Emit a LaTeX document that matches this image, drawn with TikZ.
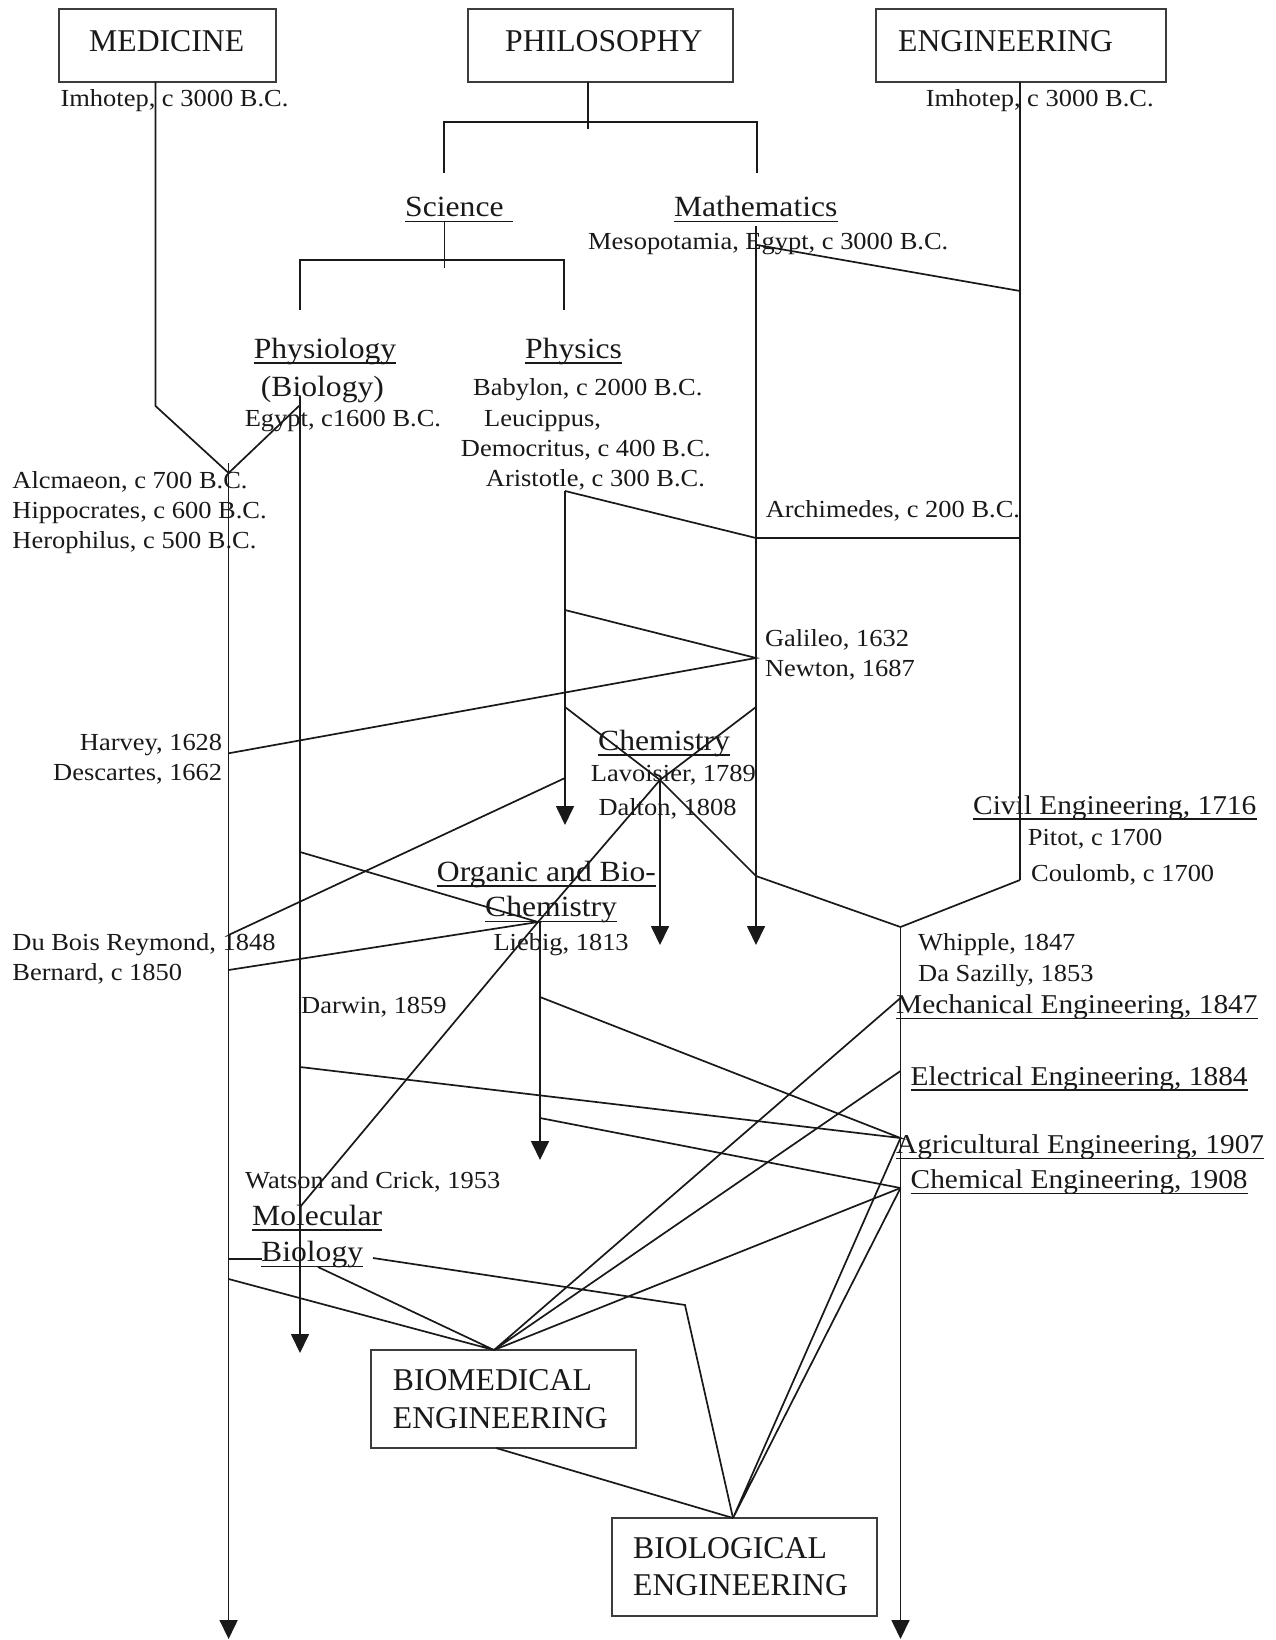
\documentclass[tikz,border=0pt]{standalone}
\usepackage{fontspec}
\setmainfont{Liberation Serif}
\newfontfamily\wideserif[FakeStretch=1.08]{Liberation Serif}
\newcommand\fontSm{\wideserif\fontsize{24.5}{28}\selectfont}
\newcommand\fontHd{\wideserif\fontsize{29.3}{34}\selectfont}
\newcommand\fontEn{\wideserif\fontsize{27.2}{32}\selectfont}
\newcommand\fontBx{\fontsize{31.7}{37}\selectfont}
\usetikzlibrary{arrows.meta}
\definecolor{ink}{gray}{0.1}
\begin{document}
\begin{tikzpicture}[x=1pt,y=-1pt,
  ln/.style={draw=ink,line width=1.7pt},
  arr/.style={ln,-{Triangle[length=19pt,width=18pt]}},
  boxn/.style={draw=ink!85,line width=1.8pt,inner sep=0pt},
  tx/.style={anchor=base west,inner sep=0pt,text=ink,font=\fontSm},
  hd/.style={tx,font=\fontHd},
  en/.style={tx,font=\fontEn},
  bx/.style={tx,font=\fontBx},
  ul/.style={draw=ink,line width=1.3pt}]
\fill[white] (0,0) rectangle (1275,1640);
\useasboundingbox (0,0) rectangle (1275,1640);

% ---- boxes
\node[boxn,minimum width=217pt,minimum height=73pt] (med) at (167.5,45.5) {};
\node[boxn,minimum width=265pt,minimum height=73pt] (phil) at (600.5,45.5) {};
\node[boxn,minimum width=290pt,minimum height=73pt] (eng) at (1021,45.5) {};
\node[boxn,minimum width=265pt,minimum height=98pt] (bme) at (503.5,1399) {};
\node[boxn,minimum width=265pt,minimum height=98pt] (bioe) at (744.5,1567) {};

\node[bx] (medT) at (89,51.7) {MEDICINE};
\node[bx] (philT) at (505,51.7) {PHILOSOPHY};
\node[bx] (engT) at (898,51.7) {ENGINEERING};
\node[bx] (bmeT1) at (392.7,1390.7) {BIOMEDICAL};
\node[bx] (bmeT2) at (392.7,1428.3) {ENGINEERING};
\node[bx] (bioT1) at (633,1558.3) {BIOLOGICAL};
\node[bx] (bioT2) at (633,1595) {ENGINEERING};

% ---- headings
\node[hd] (sci) at (405,216.7) {Science\kern9pt};
\node[hd] (math) at (673.8,216.7) {Mathematics};
\node[hd] (physio) at (253.6,358) {Physiology};
\node[hd] (biolp) at (260.7,396.7) {(Biology)};
\node[hd] (phys) at (525,358) {Physics};
\node[hd] (chem) at (598,750) {Chemistry};
\node[hd] (org1) at (436.7,881) {Organic and Bio-};
\node[hd] (org2) at (485,916.7) {Chemistry};
\node[hd] (molec) at (252,1225) {Molecular};
\node[hd] (biolm) at (261,1261.7) {Biology};

% ---- engineering labels
\node[en] (civil) at (973,814) {Civil Engineering, 1716};
\node[en] (mech) at (896,1013.3) {Mechanical Engineering, 1847};
\node[en] (elec) at (910.5,1085) {Electrical Engineering, 1884};
\node[en] (agri) at (896,1153.3) {Agricultural Engineering, 1907};
\node[en] (chemeng) at (910.5,1188.3) {Chemical Engineering, 1908};

% ---- small texts
\node[tx] (imh1) at (60.4,107) {Imhotep, c 3000 B.C.};
\node[tx] (imh2) at (925.6,107) {Imhotep, c 3000 B.C.};
\node[tx] (meso) at (588,249) {Mesopotamia, Egypt, c 3000 B.C.};
\node[tx] (egypt) at (244.6,426.7) {Egypt, c1600 B.C.};
\node[tx] (baby) at (473,395) {Babylon, c 2000 B.C.};
\node[tx] (leuc) at (484,426.7) {Leucippus,};
\node[tx] (democ) at (460.7,456.7) {Democritus, c 400 B.C.};
\node[tx] (arist) at (485.7,486.7) {Aristotle, c 300 B.C.};
\node[tx] (alcm) at (12.2,488) {Alcmaeon, c 700 B.C.};
\node[tx] (hipp) at (12.2,518) {Hippocrates, c 600 B.C.};
\node[tx] (heroph) at (12.2,548) {Herophilus, c 500 B.C.};
\node[tx] (archim) at (765.6,517.7) {Archimedes, c 200 B.C.};
\node[tx] (gali) at (764.8,646.7) {Galileo, 1632};
\node[tx] (newt) at (764.8,676.7) {Newton, 1687};
\node[tx,anchor=base east] (harv) at (222.4,750) {Harvey, 1628};
\node[tx,anchor=base east] (desc) at (222.4,780) {Descartes, 1662};
\node[tx] (lavo) at (590.7,781.7) {Lavoisier, 1789};
\node[tx] (dalt) at (598.3,815) {Dalton, 1808};
\node[tx] (pitot) at (1027.7,845) {Pitot, c 1700};
\node[tx] (coul) at (1031,881.7) {Coulomb, c 1700};
\node[tx] (lieb) at (493.3,950) {Liebig, 1813};
\node[tx] (dubois) at (12.2,950) {Du Bois Reymond, 1848};
\node[tx] (bern) at (12.2,980) {Bernard, c 1850};
\node[tx] (whip) at (918,950) {Whipple, 1847};
\node[tx] (dasaz) at (918,981.7) {Da Sazilly, 1853};
\node[tx] (darw) at (301,1013.3) {Darwin, 1859};
\node[tx] (wats) at (245,1188.3) {Watson and Crick, 1953};

% ---- underlines
\foreach \n in {sci,math,physio,phys,chem,org1,org2,molec,biolm,civil,mech,elec,agri,chemeng}
  \draw[ul] ([yshift=-5pt]\n.base west) -- ([yshift=-5pt]\n.base east);

% ---- junction coordinates
\coordinate (mTop) at (155.5,82);
\coordinate (mBend) at (155.5,406);
\coordinate (mV) at (228.6,473);
\coordinate (mS) at (228.6,463);
\coordinate (mEnd) at (228.6,1639);
\coordinate (mHarv) at (228.6,753.3);
\coordinate (mDub) at (228.6,935);
\coordinate (mBern) at (228.6,970);
\coordinate (mMol) at (228.6,1259);
\coordinate (mBme) at (228.6,1279);

\coordinate (pgS) at (300,396);
\coordinate (pgV) at (300,405);
\coordinate (pg1) at (300,852);
\coordinate (pgDar) at (300,1067);
\coordinate (pgMol) at (300,1207);
\coordinate (pgEnd) at (300,1353);

\coordinate (phA) at (588,82);
\coordinate (phB) at (588,129);
\coordinate (phL) at (444,122);
\coordinate (phR) at (757,122);
\coordinate (phLd) at (444,173);
\coordinate (phRd) at (757,173);
\coordinate (scA) at (444.6,222);
\coordinate (scB) at (444.6,268);
\coordinate (scL) at (300,260);
\coordinate (scR) at (564,260);
\coordinate (scLd) at (300,310);
\coordinate (scRd) at (564,310);

\coordinate (maS) at (756,226);
\coordinate (maMeso) at (757,245);
\coordinate (maArch) at (756,538);
\coordinate (maGal) at (756,658);
\coordinate (maChem) at (756,707);
\coordinate (maLow) at (756,876);
\coordinate (maEnd) at (756,945);

\coordinate (enS) at (1020,82);
\coordinate (enMeso) at (1020,291);
\coordinate (enArch) at (1020,538);
\coordinate (enEnd) at (1020,880);

\coordinate (phyS) at (565,491);
\coordinate (phyGal) at (565,610);
\coordinate (phyChem) at (565,707);
\coordinate (phyDub) at (565,778);
\coordinate (phyEnd) at (565,825);

\coordinate (cj) at (660,780);
\coordinate (chEnd) at (660,945);

\coordinate (lj) at (538,922);
\coordinate (ogS) at (540,922);
\coordinate (og1) at (540,997);
\coordinate (og2) at (540,1118);
\coordinate (ogEnd) at (540,1160);

\coordinate (ej0) at (900.5,927);
\coordinate (mj) at (900.5,998);
\coordinate (elj) at (900.5,1071);
\coordinate (aj) at (900.5,1138);
\coordinate (chj) at (900.5,1188);
\coordinate (leEnd) at (900.5,1639);

\coordinate (bt) at (494,1350);
\coordinate (bb) at (496,1448);
\coordinate (gt) at (733,1518);
\coordinate (molL) at (262,1259);
\coordinate (molR) at (373,1258);
\coordinate (molT) at (318,1267);
\coordinate (kink) at (685,1305);

% ---- connectors
\draw[ln] (mTop) -- (mBend) -- (mV) -- (pgV);
\draw[arr] (mS) -- (mEnd);
\draw[arr] (pgS) -- (pgEnd);
\draw[ln] (phA) -- (phB);
\draw[ln] (phLd) -- (phL) -- (phR) -- (phRd);
\draw[ln] (scA) -- (scB);
\draw[ln] (scLd) -- (scL) -- (scR) -- (scRd);
\draw[arr] (maS) -- (maEnd);
\draw[ln] (enS) -- (enEnd);
\draw[ln] (maMeso) -- (enMeso);
\draw[ln] (phyS) -- (maArch) -- (enArch);
\draw[arr] (phyS) -- (phyEnd);
\draw[ln] (phyGal) -- (maGal) -- (mHarv);
\draw[ln] (phyChem) -- (cj);
\draw[ln] (maChem) -- (cj);
\draw[ln] (cj) -- (maLow) -- (ej0) -- (enEnd);
\draw[arr] (cj) -- (chEnd);
\draw[ln] (cj) -- (lj) -- (pgMol);
\draw[arr] (ogS) -- (ogEnd);
\draw[ln] (phyDub) -- (mDub);
\draw[ln] (pg1) -- (lj) -- (mBern);
\draw[ln] (pgDar) -- (aj) -- (og1);
\draw[ln] (og2) -- (chj);
\draw[arr] (ej0) -- (leEnd);
\draw[ln] (mj) -- (bt) -- (elj);
\draw[ln] (chj) -- (bt);
\draw[ln] (aj) -- (gt) -- (chj);
\draw[ln] (molT) -- (bt) -- (mBme);
\draw[ln] (mMol) -- (molL);
\draw[ln] (molR) -- (kink) -- (gt);
\draw[ln] (bb) -- (gt);
\end{tikzpicture}
\end{document}
